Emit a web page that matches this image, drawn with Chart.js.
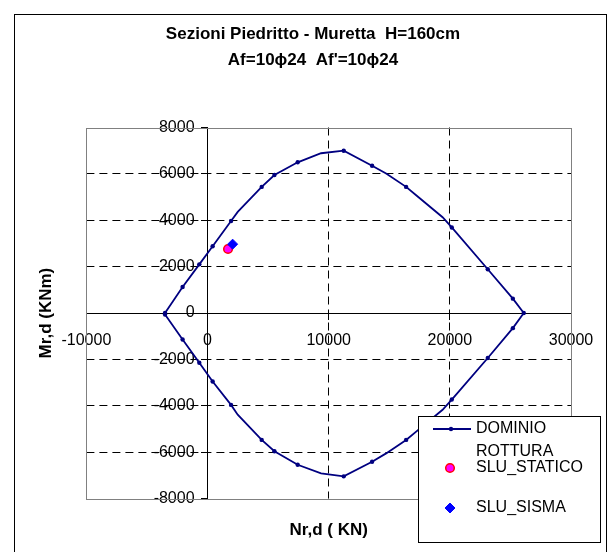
<!DOCTYPE html>
<html>
<head>
<meta charset="utf-8">
<script src="https://cdn.jsdelivr.net/npm/chart.js@4.4.0/dist/chart.umd.min.js"></script>
<style>
  html, body { margin: 0; padding: 0; background: #fff; }
  #wrap { position: relative; width: 610px; height: 552px; }
</style>
</head>
<body>
<div id="wrap"><canvas id="dominioChart"></canvas></div>
<script>
// interaction domain N-M (kN, kNm)
var NR_DOMINIO = [-3510, -2060, -680, 420, 1940, 2490, 4470, 5520, 7440, 9370, 11240, 13580, 14740, 16390, 17220, 19400, 20160, 23130, 25200, 26100,
                  25200, 23130, 20160, 19400, 17220, 16390, 14740, 13580, 11240, 9370, 7440, 5520, 4470, 2490, 1940, 420, -680, -2060, -3510];
var MR_DOMINIO = [0, 1120, 2100, 2880, 3970, 4360, 5440, 5950, 6500, 6890, 7000, 6350, 6020, 5440, 5080, 4130, 3690, 1890, 620, 0,
                  -650, -1940, -3730, -4170, -5110, -5470, -6050, -6410, -7040, -6910, -6540, -5960, -5470, -4380, -3960, -2950, -2140, -1140, -60];
// points of the polyline drawn without a marker
var BENDS = [5, 9, 12, 14, 15, 23, 24, 26, 29, 33];

var NR_STATICO = [1690];
var MR_STATICO = [2760];
var NR_SISMA = [2070];
var MR_SISMA = [2970];

var X_TICKS = [-10000, 0, 10000, 20000, 30000];
var Y_TICKS = [-8000, -6000, -4000, -2000, 0, 2000, 4000, 6000, 8000];

var FONT = '"Liberation Sans", Arial, sans-serif';

function pts(xs, ys) {
    return xs.map(function (x, i) { return {x: x, y: ys[i]}; });
}

function isEdge(c, list) {
    return c.tick && (c.tick.value === 0 || c.tick.value === list[0] || c.tick.value === list[list.length - 1]);
}

// grey frame round the plot area + outer border of the picture
var frames = {
    id: 'frames',
    beforeDatasetsDraw: function (chart) {
        var a = chart.chartArea, ctx = chart.ctx;
        ctx.save();
        ctx.strokeStyle = '#808080';
        ctx.lineWidth = 1;
        ctx.strokeRect(Math.round(a.left) + 0.5, Math.round(a.top) + 0.5, Math.round(a.right - a.left), Math.round(a.bottom - a.top));
        ctx.restore();
    },
    afterDraw: function (chart) {
        var ctx = chart.ctx;
        ctx.save();
        ctx.strokeStyle = '#000';
        ctx.lineWidth = 1;
        ctx.strokeRect(14.5, 14.5, 592, 600);
        ctx.restore();
    }
};

// boxed legend at the bottom right, like the excel one
var LEGEND_ROWS = [13, 52, 92];
var boxLegend = {
    id: 'boxLegend',
    afterDraw: function (chart) {
        var ctx = chart.ctx;
        var bx = 418, by = 416;
        ctx.save();
        ctx.fillStyle = '#fff';
        ctx.fillRect(bx + 0.5, by + 0.5, 182, 126);
        ctx.strokeStyle = '#000';
        ctx.lineWidth = 1;
        ctx.strokeRect(bx + 0.5, by + 0.5, 182, 126);

        chart.data.datasets.forEach(function (ds, i) {
            var y = by + LEGEND_ROWS[i];
            ctx.fillStyle = ds.backgroundColor;
            ctx.strokeStyle = ds.borderColor;
            ctx.lineWidth = ds.borderWidth;
            if (ds.showLine) {
                ctx.beginPath();
                ctx.moveTo(bx + 15, y);
                ctx.lineTo(bx + 53, y);
                ctx.stroke();
                Chart.helpers.drawPoint(ctx, {pointStyle: 'circle', radius: 2.2, rotation: 0, borderWidth: 0}, bx + 33, y);
            } else {
                Chart.helpers.drawPoint(ctx, {pointStyle: ds.pointStyle, radius: ds.pointRadius, rotation: 0, borderWidth: ds.borderWidth}, bx + 32, y);
            }
            ctx.fillStyle = '#000';
            ctx.font = '16px ' + FONT;
            ctx.textBaseline = 'middle';
            ctx.textAlign = 'left';
            var lines = ds.label.split('\n');
            lines.forEach(function (t, k) {
                ctx.fillText(t, bx + 58, y - (lines.length - 1 - k) * 16);
            });
        });
        ctx.restore();
    }
};

// y labels of an axis placed at x=0 get no padding in chart.js, push them left
function shiftLabels(s) {
    if (s._shifted) return;
    var draw = s.drawLabels;
    s.drawLabels = function (area) {
        this.ctx.save();
        this.ctx.translate(-13, 0);
        draw.call(this, area);
        this.ctx.restore();
    };
    s._shifted = true;
}

var ctx = document.getElementById('dominioChart').getContext('2d');

var dominioChart = new Chart(ctx, {
    type: 'scatter',
    data: {
        datasets: [{
            label: 'DOMINIO',
            data: pts(NR_DOMINIO, MR_DOMINIO),
            showLine: true,
            borderColor: '#000080',
            backgroundColor: '#000080',
            borderWidth: 1.8,
            tension: 0,
            pointStyle: 'circle',
            pointRadius: function (c) { return BENDS.indexOf(c.dataIndex) >= 0 ? 0 : 2.2; },
            pointBorderWidth: 0,
            order: 2
        }, {
            label: 'ROTTURA\nSLU_STATICO',
            data: pts(NR_STATICO, MR_STATICO),
            showLine: false,
            pointStyle: 'circle',
            backgroundColor: '#FF00FF',
            borderColor: '#FF0000',
            borderWidth: 1.5,
            pointRadius: 4.3,
            order: 1
        }, {
            label: 'SLU_SISMA',
            data: pts(NR_SISMA, MR_SISMA),
            showLine: false,
            pointStyle: 'rectRot',
            backgroundColor: '#0000FF',
            borderColor: '#0000FF',
            borderWidth: 1,
            pointRadius: 5,
            order: 0
        }]
    },
    options: {
        responsive: true,
        maintainAspectRatio: false,
        animation: false,
        events: [],
        layout: { padding: {left: 16, right: 0, top: 0, bottom: 10} },
        plugins: {
            legend: { display: false },
            tooltip: { enabled: false },
            title: {
                display: true,
                text: ['Sezioni Piedritto - Muretta  H=160cm', 'Af=10\u03d524  Af\'=10\u03d524'],
                color: '#000',
                font: {family: FONT, size: 17, weight: 'bold', lineHeight: 1.5},
                padding: {top: 22, bottom: 54.5}
            }
        },
        scales: {
            x: {
                type: 'linear',
                position: {y: 0},
                min: -10000,
                max: 30000,
                afterBuildTicks: function (s) { s.ticks = X_TICKS.map(function (v) { return {value: v}; }); },
                grid: {
                    color: function (c) { return isEdge(c, X_TICKS) ? 'rgba(0,0,0,0)' : '#000'; },
                    tickColor: '#000',
                    tickLength: 6,
                    tickBorderDash: [],
                    lineWidth: 1
                },
                border: { color: '#000', width: 1, dash: [8, 5] },
                ticks: {
                    color: '#000',
                    font: {family: FONT, size: 16},
                    padding: 12,
                    maxRotation: 0,
                    autoSkip: false,
                    callback: function (v) { return String(v); }
                }
            },
            y: {
                type: 'linear',
                position: {x: 0},
                min: -8000,
                max: 8000,
                afterBuildTicks: function (s) { s.ticks = Y_TICKS.map(function (v) { return {value: v}; }); },
                afterUpdate: shiftLabels,
                grid: {
                    color: function (c) { return isEdge(c, Y_TICKS) ? 'rgba(0,0,0,0)' : '#000'; },
                    tickColor: '#000',
                    tickLength: 6,
                    tickBorderDash: [],
                    lineWidth: 1
                },
                border: { color: '#000', width: 1, dash: [8, 5] },
                ticks: {
                    color: '#000',
                    font: {family: FONT, size: 16},
                    autoSkip: false,
                    callback: function (v) { return String(v); }
                }
            },
            xT: {
                type: 'linear', axis: 'x', position: 'bottom',
                grid: { display: false, drawTicks: false },
                border: { display: false },
                ticks: { display: false },
                title: {
                    display: true, text: 'Nr,d ( KN)', color: '#000',
                    font: {family: FONT, size: 17, weight: 'bold'},
                    padding: {top: 22, bottom: 1}
                }
            },
            yT: {
                type: 'linear', axis: 'y', position: 'left',
                grid: { display: false, drawTicks: false },
                border: { display: false },
                ticks: { display: false },
                title: {
                    display: true, text: 'Mr,d (KNm)', color: '#000',
                    font: {family: FONT, size: 17, weight: 'bold'},
                    padding: {top: 20, bottom: 30}
                }
            },
            yR: {
                type: 'linear', axis: 'y', position: 'right',
                grid: { display: false, drawTicks: false },
                border: { display: false },
                ticks: { display: false },
                afterFit: function (s) { s.width = 39; }
            }
        }
    },
    plugins: [frames, boxLegend]
});
</script>
</body>
</html>
